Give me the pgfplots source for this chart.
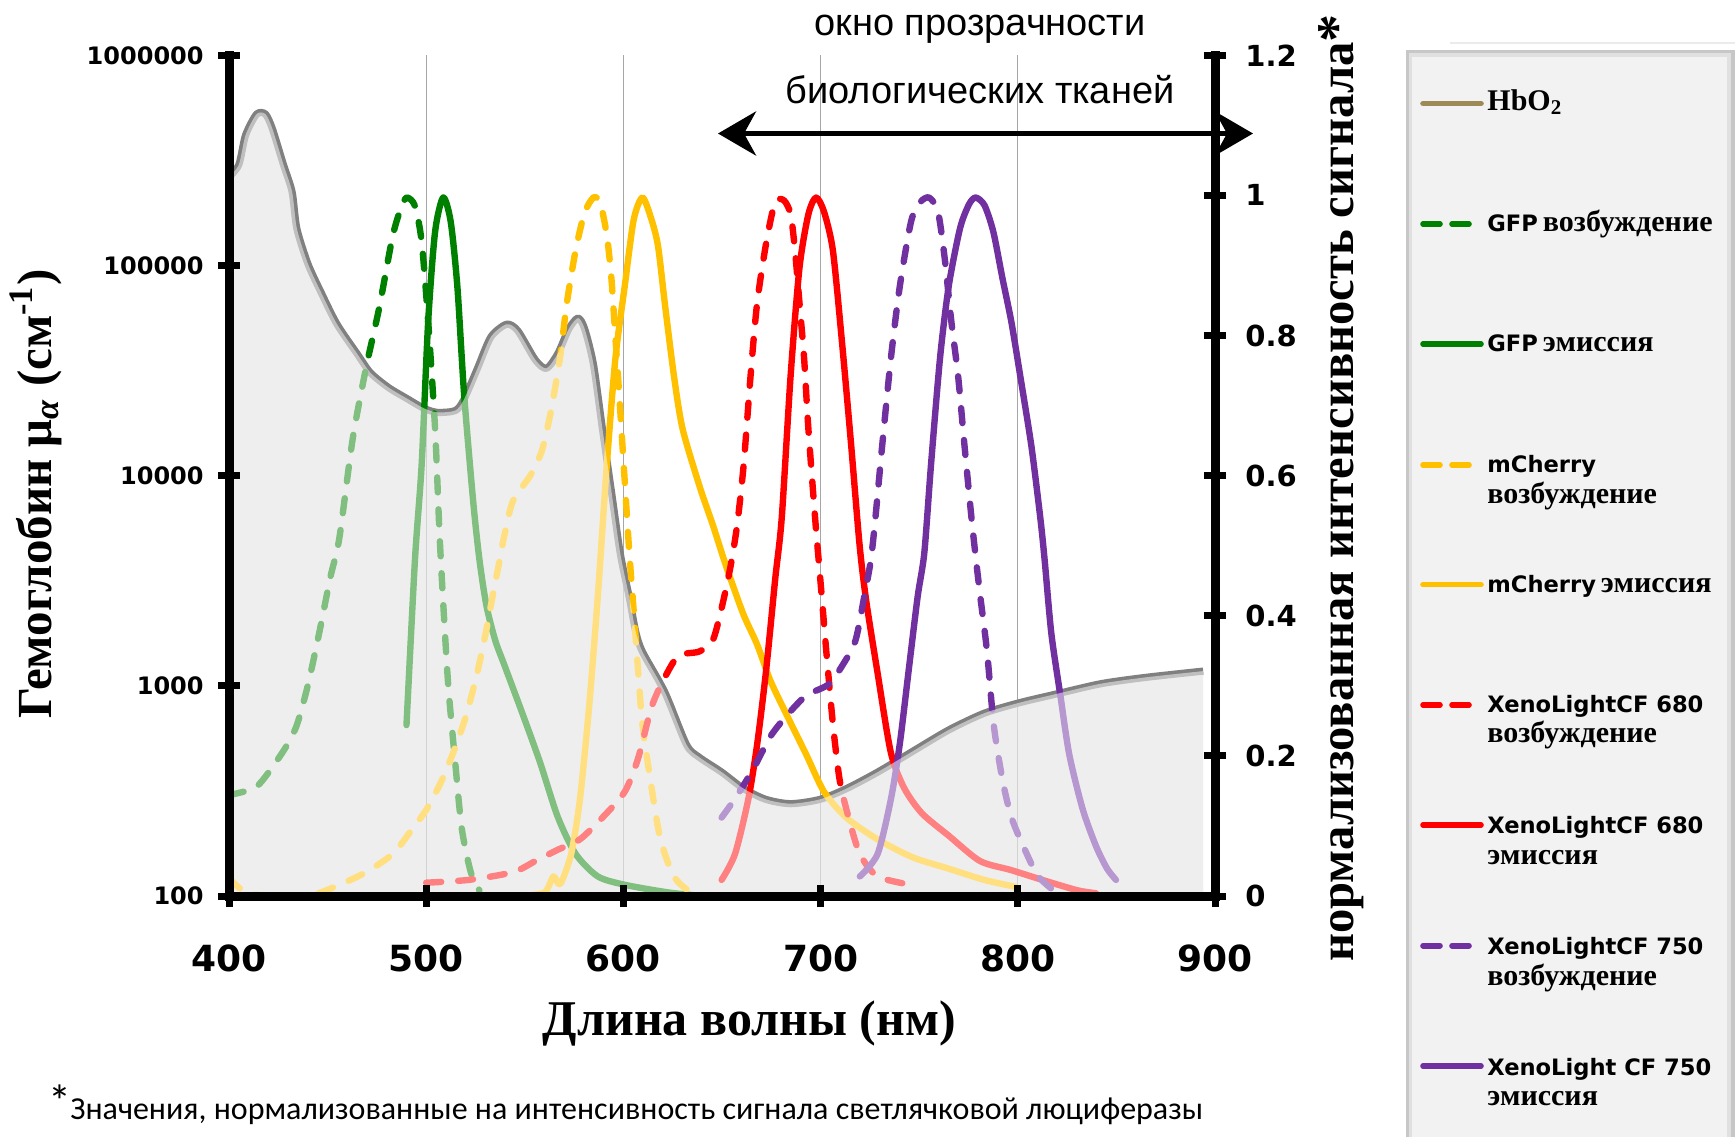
\documentclass[border=0pt]{standalone}
\usepackage{fontspec}
\usepackage{pgfplots}
\usepackage{pgfplotstable}
\pgfplotsset{compat=1.18}
\usetikzlibrary{arrows.meta}
\setmainfont{Liberation Serif}
\newfontfamily\tickfont{DejaVu Sans}
\newfontfamily\arialfont{Liberation Sans}
\newfontfamily\calfont{Carlito}

\definecolor{cgreen}{RGB}{0,128,0}
\definecolor{cyellow}{RGB}{255,192,0}
\definecolor{cred}{RGB}{255,0,0}
\definecolor{cpurple}{RGB}{112,48,160}
\definecolor{colive}{RGB}{156,139,86}
\definecolor{hbline}{RGB}{128,128,128}
\definecolor{legbg}{RGB}{242,242,242}

\pgfplotstableread{
x y
400 263000
405 302000
408.4 417000
414 525000
418.5 525000
422 447000
427.6 302000
432 224000
434.4 150000
440 102000
446.8 74100
454.8 52500
465 38000
471.7 30900
480.8 26300
489.8 23400
498.9 20900
505.7 20000
514.7 20400
519 22900
526 32400
532.8 45700
540.7 52500
546.4 49000
555.4 35500
561 32400
566.7 38000
572.4 50100
577 56200
580.3 50100
584.8 33900
589.4 16600
594 8320
598.4 4270
603 2630
606.3 1800
609.7 1450
621 933
632 525
638.5 457
649.8 389
661 324
672.4 288
684.8 275
699.5 288
713 324
729 389
747 490
765 617
783 741
801 832
819 912
842 1023
864.5 1096
894 1175
}\hbtab

\pgfplotsset{
  base/.style={
    at={(114.5pt,-448pt)}, anchor=south west,
    width=493pt, height=420.35pt, scale only axis,
    xmin=400, xmax=900,
  },
  solidc/.style={line width=3.2pt, line join=round, line cap=round, smooth, tension=0.45},
  dashc/.style={line width=3.2pt, line join=round, line cap=round, smooth, tension=0.45, dash pattern=on 7.5pt off 8.5pt},
  hidden/.style={axis line style={draw=none}, tick style={draw=none}, xticklabels={}, yticklabels={}, ytick=\empty},
}

\begin{document}
\begin{tikzpicture}
\path[use as bounding box] (0pt,0pt) rectangle (867.5pt,-568pt);

% base grey fill of HbO2
\begin{axis}[base, hidden, ymode=log, ymin=100, ymax=1000000, xtick=\empty]
\addplot[draw=none, fill=black!13, smooth, tension=0.45] table {\hbtab} \closedcycle;
\end{axis}

% grid and HbO2 line
\begin{axis}[base, hidden, ymode=log, ymin=100, ymax=1000000,
  xtick={500,600,700,800}, xmajorgrids, major grid style={black!35, line width=0.6pt}]
\addplot[hbline, line width=3.6pt, line join=round, smooth, tension=0.45] table {\hbtab};
\end{axis}

% normalized intensity curves (right axis)
\begin{axis}[base, ymin=0, ymax=1.2, axis x line=none, axis y line*=right,
  axis line style={-, line width=4.5pt, line cap=rect},
  ytick={0,0.2,0.4,0.6,0.8,1,1.2}, yticklabels={0,0.2,0.4,0.6,0.8,1,1.2},
  tick align=center, major tick length=11pt, tick style={black, line width=3.5pt},
  yticklabel style={font=\tickfont\bfseries\fontsize{14.5}{14.5}\selectfont, inner sep=0pt, anchor=west},
  yticklabel shift=9.5pt, axis on top]
% GFP excitation
\addplot[dashc, cgreen] coordinates {(400,0.144)(412.9,0.154)(419.7,0.175)(428.7,0.212)(434.4,0.244)(440,0.301)(445.7,0.375)(451.4,0.455)(455.9,0.51)(462.7,0.652)(469.5,0.754)(476.2,0.84)(483,0.942)(487.6,0.985)(490.3,0.997)(494.3,0.985)(497.7,0.934)(501,0.82)(504.5,0.667)(506.8,0.514)(509,0.40)(511.3,0.296)(514.7,0.191)(518,0.097)(522.6,0.034)(527,0.008)};
% GFP emission
\addplot[solidc, cgreen] coordinates {(490,0.244)(494.3,0.48)(497.7,0.616)(501,0.82)(504.5,0.948)(508.6,0.997)(512.4,0.963)(515.8,0.87)(519.2,0.717)(523.8,0.564)(527,0.48)(530.5,0.415)(535,0.365)(539.6,0.33)(548.6,0.262)(557.7,0.191)(566.7,0.113)(575.8,0.06)(587,0.028)(600.7,0.016)(623,0.005)(640,0.0)};
% mCherry excitation
\addplot[dashc, cyellow] coordinates {(400,0.026)(405,0.012)(410.6,0.004)(419.7,0.0)(442.3,0.002)(455.9,0.016)(469.5,0.034)(483,0.06)(492,0.092)(500,0.123)(507.9,0.165)(514.7,0.212)(520.4,0.259)(526,0.32)(530.5,0.38)(534,0.433)(537.3,0.48)(539.6,0.514)(544,0.564)(553,0.601)(558.8,0.637)(563.3,0.693)(567.9,0.769)(571.3,0.846)(575.8,0.922)(580.3,0.975)(584.8,0.997)(588.2,0.99)(591.6,0.943)(593.9,0.882)(596,0.795)(598.4,0.693)(600.7,0.591)(603,0.49)(605,0.415)(607.5,0.32)(609.7,0.244)(614.3,0.154)(618.8,0.081)(625.6,0.028)(634.6,0.005)(645,0.0)};
% mCherry emission
\addplot[solidc, cyellow] coordinates {(548,0.0)(560,0.005)(564.5,0.028)(567.9,0.017)(573.5,0.06)(578,0.139)(582.6,0.27)(587,0.427)(591.6,0.616)(596,0.769)(600.7,0.871)(605.2,0.965)(609.7,0.997)(614.3,0.965)(617.6,0.927)(621,0.846)(625.6,0.743)(630,0.667)(638.6,0.585)(645.3,0.53)(651,0.48)(654.3,0.453)(661,0.401)(667.8,0.359)(674.6,0.307)(683.6,0.254)(692.7,0.202)(701.7,0.149)(713,0.112)(728.8,0.081)(746.9,0.055)(765,0.039)(783,0.023)(799,0.013)};
% XenoLight CF 680 excitation
\addplot[dashc, cred] coordinates {(500,0.019)(521.5,0.023)(544,0.034)(555.4,0.05)(566.7,0.066)(578,0.081)(589.4,0.112)(600.7,0.149)(607.5,0.197)(614.3,0.27)(621,0.312)(628,0.343)(638.5,0.349)(645.3,0.365)(649.8,0.411)(654.3,0.47)(657.7,0.53)(661,0.616)(664.5,0.743)(667.8,0.846)(672.4,0.932)(676.9,0.99)(681.4,0.993)(684.8,0.973)(687,0.922)(689.3,0.846)(691.6,0.769)(693.8,0.667)(697.2,0.54)(699,0.48)(700.6,0.427)(702.9,0.349)(706.3,0.244)(709.7,0.165)(714.2,0.112)(719.9,0.06)(728.9,0.028)(745.8,0.016)};
% XenoLight CF 680 emission
\addplot[solidc, cred] coordinates {(649.8,0.023)(656.6,0.06)(663.4,0.139)(667.9,0.218)(672.4,0.323)(677,0.453)(680.3,0.54)(684.8,0.743)(689.3,0.897)(693.8,0.973)(697.7,0.997)(701.7,0.977)(706.2,0.922)(710.7,0.795)(715.3,0.65)(719.8,0.5)(723.2,0.42)(728.8,0.32)(735.6,0.205)(742.4,0.154)(751.4,0.118)(765,0.086)(780.8,0.05)(796.6,0.037)(814.7,0.021)(830.5,0.008)(839.6,0.004)};
% XenoLight CF 750 excitation
\addplot[dashc, cpurple] coordinates {(649.8,0.112)(656.6,0.139)(665.6,0.18)(674.6,0.228)(683.6,0.26)(692.7,0.286)(704,0.302)(710.8,0.328)(717.6,0.364)(722.1,0.427)(725.5,0.48)(727.8,0.54)(731.2,0.642)(735.7,0.769)(740.2,0.871)(745.9,0.963)(750.4,0.99)(755,0.997)(759.5,0.977)(762.9,0.911)(766.3,0.82)(769.7,0.743)(773,0.642)(776.5,0.54)(778.8,0.48)(781,0.427)(784.4,0.349)(787.8,0.244)(792.3,0.165)(796.8,0.112)(803.6,0.066)(810.4,0.028)(819.5,0.005)};
% XenoLight CF 750 emission
\addplot[solidc, cpurple] coordinates {(719.9,0.028)(728.9,0.06)(735.7,0.139)(740.2,0.218)(744.7,0.323)(749.2,0.427)(752.6,0.49)(756,0.616)(760.6,0.769)(765,0.871)(770.7,0.953)(775.2,0.987)(778.6,0.997)(783.1,0.986)(787.6,0.948)(792.2,0.882)(796.7,0.82)(801.2,0.743)(806.9,0.642)(811.4,0.54)(813.6,0.48)(817,0.375)(821.6,0.286)(826.1,0.202)(832.9,0.124)(839.7,0.071)(845.3,0.039)(849.8,0.023)};
\end{axis}

% left log axis, bottom axis and translucent HbO2 overlay
\begin{axis}[base, ymode=log, ymin=100, ymax=1000000,
  axis x line*=bottom, axis y line*=left,
  axis line style={-, line width=4.5pt, line cap=rect},
  every outer x axis line/.append style={-}, every outer y axis line/.append style={-},
  xtick={400,500,600,700,800,900}, xticklabels={400,500,600,700,800,900},
  ytick={100,1000,10000,100000,1000000}, yticklabels={100,1000,10000,100000,1000000},
  minor tick length=0pt, minor tick style={draw=none},
  tick align=center, major tick length=11pt, tick style={black, line width=3.5pt},
  xticklabel style={font=\tickfont\bfseries\fontsize{18}{18}\selectfont, inner sep=0pt, anchor=north},
  yticklabel style={font=\tickfont\bfseries\fontsize{12}{12}\selectfont, inner sep=0pt, anchor=east},
  xticklabel shift=18.5pt, yticklabel shift=7pt, axis on top]
\addplot[draw=none, fill=white, fill opacity=0.5, smooth, tension=0.45] table {\hbtab} \closedcycle;
\end{axis}

\begin{scope}[x=0.5pt, y=-0.5pt]
% axis titles
\node[rotate=90, anchor=base, inner sep=0pt] at (51,494)
  {\fontsize{24.5}{24.5}\selectfont\bfseries Гемоглобин μ\textsubscript{\itshape α} (см\textsuperscript{-1})};
\node[rotate=90, anchor=base, inner sep=0pt] at (1353,488)
  {\fontsize{24.3}{24.3}\selectfont\bfseries нормализованная интенсивность сигнала\raisebox{-1pt}{\fontsize{28}{28}\selectfont *}};
\node[anchor=base, inner sep=0pt] at (749.5,1035)
  {\fontsize{25}{25}\selectfont\bfseries Длина волны (нм)};
% transparency window
\node[anchor=base, inner sep=0pt] at (980,35.7) {\arialfont\fontsize{19}{19}\selectfont окно прозрачности};
\node[anchor=base, inner sep=0pt] at (980,103.6) {\arialfont\fontsize{19}{19}\selectfont биологических тканей};
\draw[line width=2.6pt, {Stealth[length=19pt,width=22pt,inset=6pt]}-{Stealth[length=19pt,width=22pt,inset=6pt]}] (718,133.5) -- (1253,133.5);
% footnote
\node[anchor=base west, inner sep=0pt] at (48,1117) {\calfont\fontsize{23}{23}\selectfont *};
\node[anchor=base west, inner sep=0pt] at (70,1119.6) {\calfont\fontsize{16}{20}\selectfont Значения, нормализованные на интенсивность сигнала светлячковой люциферазы};
% legend box
\draw[black!8, line width=1pt] (1450,43) -- (1735,43);
\fill[black!22] (1406,50) rectangle (1735,1140);
\fill[black!12] (1409,53) rectangle (1731,1140);
\fill[legbg] (1412,57) rectangle (1727,1140);
% legend entries
\def\lsans{\tickfont\bfseries\fontsize{11.3}{13}\selectfont}
\def\lser{\bfseries\fontsize{15}{15}\selectfont}
\draw[colive, line width=2.8pt, line cap=round] (1423,103.5) -- (1481,103.5);
\node[anchor=base west, inner sep=0pt] at (1487,110) {\lser HbO\textsubscript{2}};
\draw[cgreen, line width=2.8pt, line cap=round] (1423,224) -- (1440,224) (1452,224) -- (1469,224);
\node[anchor=base west, inner sep=0pt] at (1487,231.7) {{\lsans GFP} \lser возбуждение};
\draw[cgreen, line width=2.8pt, line cap=round] (1423,344) -- (1481,344);
\node[anchor=base west, inner sep=0pt] at (1487,351.7) {{\lsans GFP} \lser эмиссия};
\draw[cyellow, line width=2.8pt, line cap=round] (1423,465) -- (1440,465) (1452,465) -- (1469,465);
\node[anchor=base west, inner sep=0pt] at (1487,472) {\lsans mCherry};
\node[anchor=base west, inner sep=0pt] at (1487,503.6) {\lser возбуждение};
\draw[cyellow, line width=2.8pt, line cap=round] (1423,584.6) -- (1481,584.6);
\node[anchor=base west, inner sep=0pt] at (1487,592) {{\lsans mCherry} \lser эмиссия};
\draw[cred, line width=2.8pt, line cap=round] (1423,705) -- (1440,705) (1452,705) -- (1469,705);
\node[anchor=base west, inner sep=0pt] at (1487,712.8) {\lsans XenoLightCF 680};
\node[anchor=base west, inner sep=0pt] at (1487,742) {\lser возбуждение};
\draw[cred, line width=2.8pt, line cap=round] (1423,825) -- (1481,825);
\node[anchor=base west, inner sep=0pt] at (1487,833.3) {\lsans XenoLightCF 680};
\node[anchor=base west, inner sep=0pt] at (1487,864) {\lser эмиссия};
\draw[cpurple, line width=2.8pt, line cap=round] (1423,945.7) -- (1440,945.7) (1452,945.7) -- (1469,945.7);
\node[anchor=base west, inner sep=0pt] at (1487,954.3) {\lsans XenoLightCF 750};
\node[anchor=base west, inner sep=0pt] at (1487,985) {\lser возбуждение};
\draw[cpurple, line width=2.8pt, line cap=round] (1423,1066) -- (1481,1066);
\node[anchor=base west, inner sep=0pt] at (1487,1075) {\lsans XenoLight CF 750};
\node[anchor=base west, inner sep=0pt] at (1487,1105) {\lser эмиссия};
\end{scope}
\end{tikzpicture}
\end{document}
